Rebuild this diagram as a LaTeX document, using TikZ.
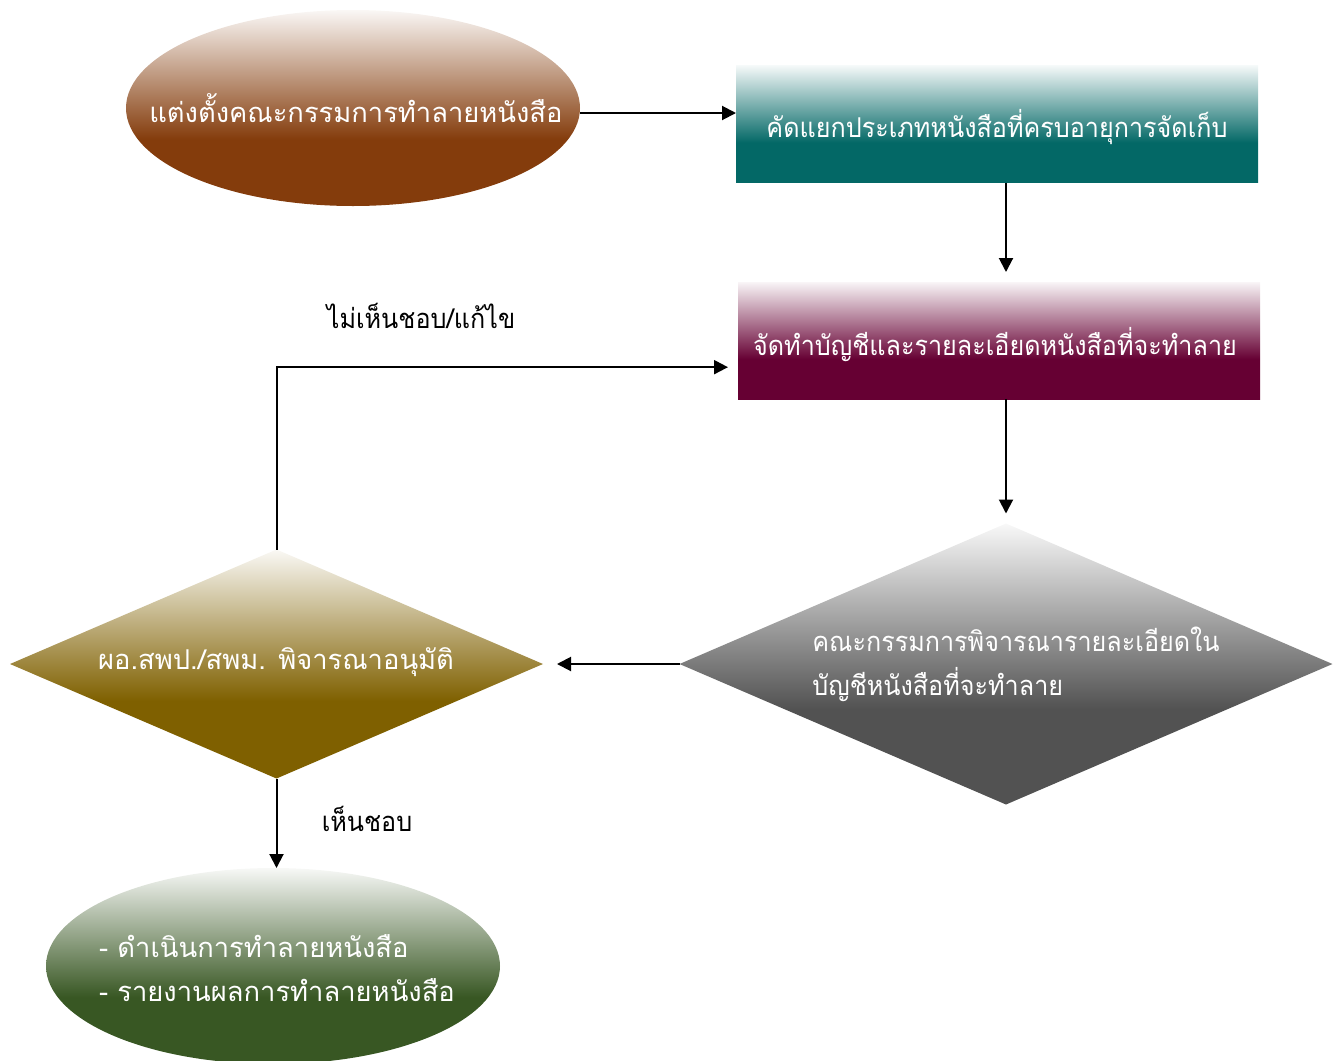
\documentclass[tikz,border=0pt]{standalone}
\usepackage{fontspec}
\setmainfont[Script=Thai, FakeStretch=0.92]{Loma}
\newfontfamily\widethai[Script=Thai]{Loma}
\usetikzlibrary{shapes.geometric,arrows.meta,calc}

% fill colours of the flow steps
\definecolor{brownc}{HTML}{843C0C}
\definecolor{tealc}{HTML}{036866}
\definecolor{maroonc}{HTML}{660033}
\definecolor{grayc}{HTML}{525252}
\definecolor{olivec}{HTML}{7F6000}
\definecolor{greenc}{HTML}{385723}

% vertical fade: solid colour in the lower part, white at the top
\newcommand{\fadeshade}[2]{%
  \pgfdeclareverticalshading{#1}{100bp}{%
    color(0bp)=(#2); color(42bp)=(#2); color(75bp)=(white!96!#2); color(100bp)=(white!96!#2)}}
\fadeshade{brownfade}{brownc}
\fadeshade{tealfade}{tealc}
\fadeshade{maroonfade}{maroonc}
\fadeshade{grayfade}{grayc}
\fadeshade{olivefade}{olivec}
\fadeshade{greenfade}{greenc}

\def\px{0.75pt}

\tikzset{
  shapebox/.style={draw=none, inner sep=0pt, outer sep=0pt},
  oval/.style={shapebox, ellipse, minimum width=454*\px, minimum height=196*\px},
  stepbox/.style={shapebox, rectangle, minimum width=522*\px, minimum height=117*\px},
  choice/.style={shapebox, diamond},
  lbl/.style={text=white, font=\fontsize{20.5}{33}\selectfont, inner sep=0pt},
  widelbl/.style={text=white, font=\fontsize{20.5}{33}\widethai, inner sep=0pt},
  note/.style={text=black, font=\fontsize{20.5}{26}\selectfont, inner sep=0pt},
  arr/.style={line width=1.5pt, -{Triangle[length=10.5pt,width=10.5pt]}},
}

\begin{document}
\begin{tikzpicture}[x=\px, y=-\px]
  \clip (0,0) rectangle (1340,1061);

  % shapes
  \node[oval, shading=brownfade] (e1) at (353,108) {};
  \node[stepbox, shading=tealfade] (r1) at (997,124) {};
  \node[stepbox, shading=maroonfade] (r2) at (999,340.5) {};
  \node[choice, shading=grayfade, minimum width=653*\px, minimum height=281*\px] (d1) at (1006,664) {};
  \node[choice, shading=olivefade, minimum width=533*\px, minimum height=229*\px] (d2) at (276.5,664) {};
  \node[oval, shading=greenfade] (e2) at (273,966) {};

  % texts
  \node[widelbl] (e1t) at (356,108) {แต่งตั้งคณะกรรมการทำลายหนังสือ};
  \node[lbl] (r1t) at (997,127) {คัดแยกประเภทหนังสือที่ครบอายุการจัดเก็บ};
  \node[lbl] (r2t) at (995,345) {จัดทำบัญชีและรายละเอียดหนังสือที่จะทำลาย};
  \node[lbl, align=left] (d1t) at (1016,664) {คณะกรรมการพิจารณารายละเอียดใน\\บัญชีหนังสือที่จะทำลาย};
  \node[widelbl] (d2t) at (276,662) {ผอ.สพป./สพม. พิจารณาอนุมัติ};
  \node[widelbl, align=left] (e2t) at (277,968) {- ดำเนินการทำลายหนังสือ\\- รายงานผลการทำลายหนังสือ};

  \node[note] (no) at (421,316) {ไม่เห็นชอบ/แก้ไข};
  \node[note] (yes) at (367,819) {เห็นชอบ};

  % connectors
  \draw[arr] ([yshift=-3.75pt]e1.east) -- ([yshift=-3.75pt]e1.east -| r1.west);
  \draw[arr, shorten >=7.5pt] (r1.south -| d1.north) -- (r2.north -| d1.north);
  \draw[arr, shorten >=7.5pt] (r2.south -| d1.north) -- (d1.north);
  \draw[arr, shorten >=10.5pt] (d1.west) -- (d2.east);
  \draw[arr, shorten >=7.5pt] (d2.north) |- ([yshift=-20pt]r2.west);
  \draw[arr] (d2.south) -- (d2.south |- e2.north);
\end{tikzpicture}
\end{document}
